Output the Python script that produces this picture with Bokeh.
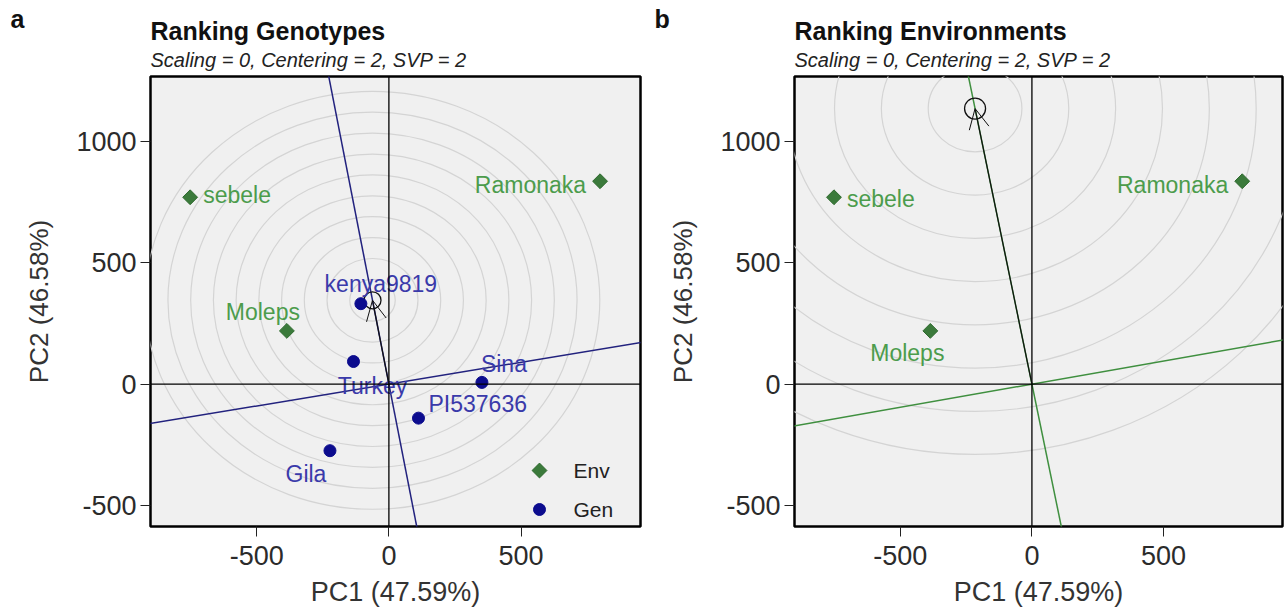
import numpy as np
from bokeh.plotting import figure
from bokeh.layouts import row, column
from bokeh.models import (Span, Label, Arrow, OpenHead, ColumnDataSource,
                          Range1d, FixedTicker, PrintfTickFormatter)
from bokeh.core.properties import value
from bokeh.embed import file_html
from bokeh.resources import INLINE

# ---- biplot scores -------------------------------------------------------
env_names = ["sebele", "Ramonaka", "Moleps"]
env_pc1 = [-752, 799, -386]
env_pc2 = [769, 835, 219]

gen_names = ["kenya9819", "Turkey", "Sina", "PI537636", "Gila"]
gen_pc1 = [-106, -134, 352, 112, -223]
gen_pc2 = [331, 93, 7, -140, -274]

# average-environment coordinate (ideal point) of each panel
aec_gen = [-62, 345]
aec_env = [-216, 1134]

# concentric ring spacing and count for each panel
ring_step_gen, ring_count_gen = 86, 10
ring_step_env, ring_count_env = 178, 8

x_ticks = [-500, 0, 500]
y_ticks = [-500, 0, 500, 1000]
x_label = "PC1 (47.59%)"
y_label = "PC2 (46.58%)"
subtitle = "Scaling = 0, Centering = 2, SVP = 2"
legend_labels = ["Env", "Gen"]

# ---- styling -------------------------------------------------------------
FONT = "Liberation Sans"
ENV_FILL = "#3b7a3b"
ENV_LINE = "#2f6a2f"
ENV_TEXT = "#4c9c4c"
GEN_FILL = "#0c0c8e"
GEN_TEXT = "#3a3aaa"
BLUE_LINE = "#22227e"
GREEN_LINE = "#3f8f3f"
RING = "#d4d4d4"

X0, X1 = -902, 952
Y0, Y1 = -586, 1266

# pixel offsets of the point labels (x, y, align)
gen_lab_a = [(20, -20, "center"), (19, 24, "center"), (22, -18, "center"),
             (10, -14, "left"), (-24, 23, "center")]
env_lab_a = [(13, -2, "left"), (-14, 4, "right"), (-24, -19, "center")]
env_lab_b = [(13, 2, "left"), (-14, 4, "right"), (-23, 22, "center")]

FRAME_H = 450
HEADER_H = 74


def base_figure(left, right, frame_w):
    p = figure(frame_width=frame_w, frame_height=FRAME_H,
               min_border_left=left, min_border_right=right,
               min_border_top=2, min_border_bottom=85,
               x_range=Range1d(X0, X1), y_range=Range1d(Y0, Y1),
               output_backend="svg", toolbar_location=None)
    p.background_fill_color = "#f0f0f0"
    p.border_fill_color = "white"
    p.outline_line_color = "black"
    p.outline_line_width = 2.5
    p.grid.visible = False
    for ax in (p.xaxis[0], p.yaxis[0]):
        ax.axis_line_color = None
        ax.major_tick_in = 0
        ax.major_tick_out = 10
        ax.major_tick_line_color = "#222222"
        ax.minor_tick_line_color = None
        ax.formatter = PrintfTickFormatter(format="%d")
        ax.major_label_text_font = FONT
        ax.major_label_text_font_size = "27px"
        ax.major_label_text_color = "#2b2b2b"
        ax.axis_label_text_font = FONT
        ax.axis_label_text_font_style = "normal"
        ax.axis_label_text_color = "#333333"
    p.xaxis.ticker = FixedTicker(ticks=x_ticks)
    p.yaxis.ticker = FixedTicker(ticks=y_ticks)
    p.xaxis.axis_label = x_label
    p.yaxis.axis_label = y_label
    p.xaxis.axis_label_text_font_size = "27px"
    p.yaxis.axis_label_text_font_size = "26px"
    p.xaxis.major_label_standoff = 9
    p.yaxis.major_label_standoff = 4
    p.xaxis.axis_label_standoff = 9
    p.yaxis.axis_label_standoff = 19
    return p


def add_common(p, aec, step, count, line_color, marker_size):
    cx, cy = aec
    # rings around the ideal point
    diam = [2 * step * (k + 1) for k in range(count)]
    p.ellipse(x=[cx] * count, y=[cy] * count, width=diam, height=diam,
              fill_color=None, line_color=RING, line_width=1.2)
    # zero axes
    p.add_layout(Span(location=0, dimension="width", line_color="black", line_width=1.3))
    p.add_layout(Span(location=0, dimension="height", line_color="black", line_width=1.3))
    # average-environment axis and its perpendicular through the origin
    t = 6.0
    p.line(x=[-t * cx, t * cx], y=[-t * cy, t * cy], line_color=line_color, line_width=1.5)
    p.line(x=[-t * cy, t * cy], y=[t * cx, -t * cx], line_color=line_color, line_width=1.5)
    # arrow to the ideal point
    p.add_layout(Arrow(end=OpenHead(size=20, line_width=1, line_color="#111111"),
                       x_start=0, y_start=0, x_end=cx, y_end=cy,
                       line_color="#111111", line_width=1.2))
    p.scatter(x=[cx], y=[cy], size=marker_size, marker="circle", fill_color=None,
              line_color="#111111", line_width=1.3)


def add_labels(p, xs, ys, names, offs, color):
    src = ColumnDataSource(dict(
        x=xs, y=ys, text=names,
        dx=[o[0] for o in offs], dy=[o[1] for o in offs],
        align=[o[2] for o in offs]))
    p.text(x="x", y="y", text="text", x_offset="dx", y_offset="dy",
           text_align="align", text_baseline="middle", source=src,
           text_font=value(FONT), text_font_size="23px", text_color=color)


def env_points(p):
    p.scatter(x=env_pc1, y=env_pc2, marker="square", angle=np.pi / 4, size=10.5,
              fill_color=ENV_FILL, line_color=ENV_LINE, line_width=1)


# ---- header: panel letters, titles and subtitles -------------------------
header = figure(frame_width=1287, frame_height=HEADER_H, min_border=0,
                x_range=Range1d(0, 1287), y_range=Range1d(HEADER_H, 0),
                x_axis_type=None, y_axis_type=None,
                output_backend="svg", toolbar_location=None)
header.outline_line_color = None
header.grid.visible = False
header.background_fill_color = "white"
header.border_fill_color = "white"
for px, letter, title in [(150, "a", "Ranking Genotypes"),
                          (794, "b", "Ranking Environments")]:
    header.add_layout(Label(x=px - 140, y=18, text=letter,
                            text_font=FONT, text_font_size="25px",
                            text_font_style="bold", text_color="#111111",
                            text_baseline="alphabetic"))
    header.add_layout(Label(x=px, y=30, text=title, text_font=FONT,
                            text_font_size="25px", text_font_style="bold",
                            text_color="#111111", text_baseline="alphabetic"))
    header.add_layout(Label(x=px, y=59, text=subtitle, text_font=FONT,
                            text_font_size="20px", text_font_style="italic",
                            text_color="#222222", text_baseline="alphabetic"))

# ---- panel a: ranking genotypes -----------------------------------------
pa = base_figure(150, 3, 490)
add_common(pa, aec_gen, ring_step_gen, ring_count_gen, BLUE_LINE, 17)
env_points(pa)
pa.scatter(x=gen_pc1, y=gen_pc2, marker="circle", size=12,
           fill_color=GEN_FILL, line_color=GEN_FILL)
add_labels(pa, env_pc1, env_pc2, env_names, env_lab_a, ENV_TEXT)
add_labels(pa, gen_pc1, gen_pc2, gen_names, gen_lab_a, GEN_TEXT)

# key in the lower-right corner of the frame (positions as frame fractions)
key_fx = 389 / 490
key_fy = [56 / 450, 17 / 450]
key_x = X0 + key_fx * (X1 - X0)
key_y = [Y0 + f * (Y1 - Y0) for f in key_fy]
pa.scatter(x=[key_x], y=[key_y[0]], marker="square", angle=np.pi / 4, size=10.5,
           fill_color=ENV_FILL, line_color=ENV_LINE, line_width=1)
pa.scatter(x=[key_x], y=[key_y[1]], marker="circle", size=12,
           fill_color=GEN_FILL, line_color=GEN_FILL)
pa.text(x=[key_x, key_x], y=key_y, text=legend_labels, x_offset=34,
        text_baseline="middle", text_font=value(FONT), text_font_size="21px",
        text_color="#222222")

# ---- panel b: ranking environments --------------------------------------
pb = base_figure(151, 5, 488)
add_common(pb, aec_env, ring_step_env, ring_count_env, GREEN_LINE, 21)
env_points(pb)
add_labels(pb, env_pc1, env_pc2, env_names, env_lab_b, ENV_TEXT)

layout = column(header, row(pa, pb))
open("out.html", "w").write(file_html(layout, INLINE))
